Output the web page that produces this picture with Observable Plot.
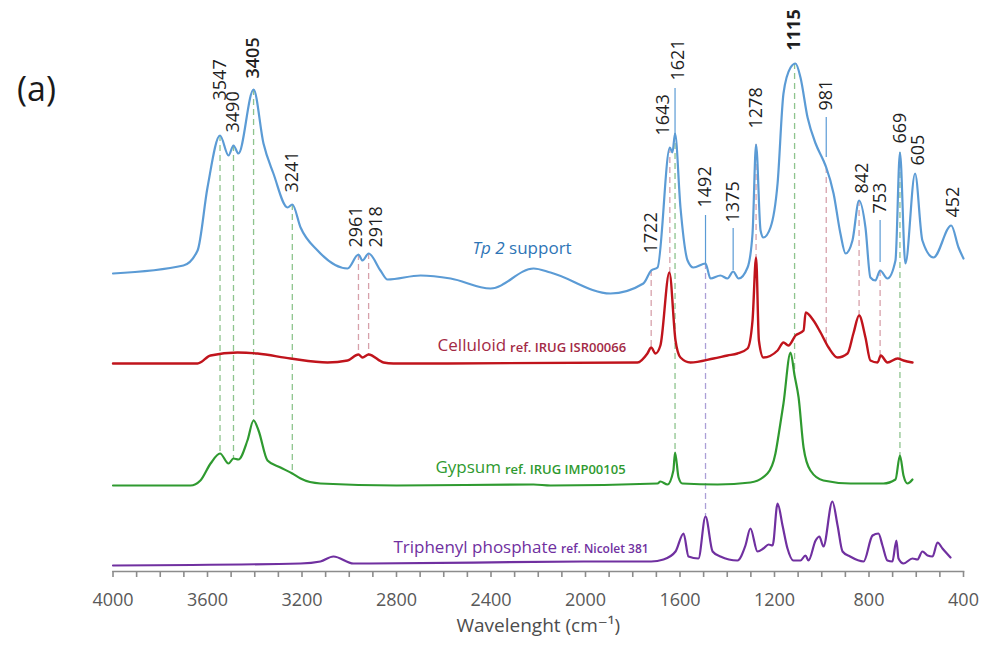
<!DOCTYPE html>
<html>
<head>
<meta charset="utf-8">
<script src="https://cdn.jsdelivr.net/npm/d3@7"></script>
<script src="https://cdn.jsdelivr.net/npm/@observablehq/plot@0.6"></script>
<style>
  html, body { margin: 0; padding: 0; background: #fff; }
  #chart svg { display: block; }
</style>
</head>
<body>
<div id="chart"></div>
<script>
// ---- Spectra: [wavenumber (cm-1), stacked absorbance (a.u.)] ----
const tp2Support = [
  [4000,2.95],[3702,3.03],[3642,3.18],[3600,3.81],[3547,4.33],[3511,4.13],[3490,4.23],[3469,4.15],
  [3405,4.79],[3363,4.25],[3321,3.95],[3261,3.61],[3241,3.64],[3206,3.41],[3134,3.18],[3007,3.00],
  [2961,3.14],[2944,3.08],[2918,3.15],[2868,2.98],[2838,2.89],[2698,2.93],[2571,2.90],[2402,2.80],
  [2220,3.00],[2148,2.96],[1894,2.75],[1755,2.85],[1722,2.98],[1695,3.01],[1643,4.21],[1632,4.16],
  [1621,4.35],[1598,3.61],[1568,3.08],[1543,3.01],[1492,3.05],[1471,2.90],[1429,2.93],[1399,2.90],
  [1375,2.97],[1352,2.90],[1314,3.01],[1293,3.35],[1278,4.24],[1259,3.38],[1247,3.31],[1217,3.41],
  [1187,3.85],[1162,4.75],[1132,5.01],[1111,5.05],[1090,4.91],[1060,4.51],[1026,4.25],[993,4.08],
  [981,4.01],[950,3.75],[921,3.35],[899,3.15],[870,3.28],[842,3.68],[815,3.41],[794,2.91],
  [773,2.88],[753,2.98],[722,2.90],[688,3.08],[669,4.16],[646,3.05],[605,3.95],[574,3.28],
  [527,3.11],[452,3.43],[421,3.21],[400,3.10]
];
const celluloid = [
  [4000,2.05],[3642,2.05],[3587,2.13],[3473,2.16],[3388,2.15],[3249,2.10],[3092,2.06],[3007,2.08],
  [2961,2.14],[2944,2.11],[2918,2.14],[2855,2.06],[2813,2.05],[1780,2.06],[1738,2.15],[1722,2.21],
  [1704,2.15],[1683,2.23],[1645,2.96],[1619,2.28],[1598,2.11],[1556,2.06],[1458,2.10],[1399,2.13],
  [1357,2.15],[1314,2.20],[1293,2.48],[1278,3.11],[1266,2.28],[1247,2.11],[1187,2.18],[1162,2.26],
  [1141,2.23],[1111,2.33],[1077,2.38],[1068,2.56],[1035,2.48],[1005,2.36],[971,2.21],[933,2.11],
  [891,2.15],[866,2.35],[842,2.53],[815,2.31],[794,2.08],[764,2.06],[750,2.13],[722,2.06],
  [679,2.10],[654,2.08],[616,2.06]
];
const gypsum = [
  [4000,0.83],[3672,0.83],[3630,0.88],[3587,1.05],[3547,1.15],[3511,1.05],[3490,1.10],[3469,1.09],
  [3431,1.28],[3405,1.48],[3384,1.38],[3346,1.08],[3291,1.01],[3241,0.95],[3206,0.90],[3122,0.85],
  [2800,0.83],[2220,0.84],[2148,0.83],[1695,0.85],[1683,0.87],[1653,0.84],[1628,0.98],[1621,1.16],
  [1606,0.91],[1590,0.85],[1441,0.84],[1302,0.86],[1230,0.95],[1196,1.15],[1183,1.33],[1162,1.65],
  [1132,2.16],[1115,1.93],[1098,1.71],[1077,1.21],[1048,0.98],[993,0.88],[878,0.85],[739,0.85],
  [688,0.89],[669,1.13],[654,0.93],[637,0.85],[616,0.89]
];
const triphenylPhosphate = [
  [4000,0.03],[3206,0.05],[3122,0.07],[3067,0.12],[2982,0.05],[2923,0.05],[2008,0.07],[1722,0.07],
  [1670,0.09],[1619,0.17],[1585,0.35],[1564,0.12],[1522,0.10],[1492,0.52],[1462,0.17],[1429,0.12],
  [1357,0.08],[1323,0.23],[1302,0.40],[1272,0.17],[1247,0.20],[1225,0.24],[1208,0.23],[1187,0.65],
  [1166,0.43],[1145,0.20],[1120,0.08],[1090,0.08],[1069,0.13],[1056,0.08],[1026,0.28],[1010,0.32],
  [993,0.22],[955,0.67],[933,0.43],[912,0.17],[880,0.12],[823,0.07],[785,0.33],[760,0.35],
  [743,0.23],[722,0.08],[701,0.07],[684,0.28],[675,0.10],[654,0.05],[616,0.10],[595,0.09],
  [574,0.17],[552,0.13],[531,0.12],[510,0.26],[489,0.20],[455,0.11]
];

// ---- Peak labels: peak wavenumber, label text, where the label sits (wavenumber, absorbance) ----
const peakWn      = [3547,3490,3405,3241,2961,2918,1722,1643,1621,1492,1375,1278,1115,981,842,753,669,605,452];
const peakLabel   = ["3547","3490","3405","3241","2961","2918","1722","1643","1621","1492","1375","1278","1115","981","842","753","669","605","452"];
const peakLabelWn = [3547,3490,3405,3241,2971,2885,1722,1670,1606,1492,1375,1278,1115,981,828,753,669,591,442];
const peakLabelBase = [4.68,4.36,4.90,3.76,3.21,3.21,3.15,4.33,4.88,3.61,3.46,4.40,5.18,4.58,3.75,3.55,4.25,4.03,3.51];
const peakWeight  = [400,400,600,400,400,400,400,400,400,400,400,400,700,400,400,400,400,400,400];

// ---- Dashed correlation lines: wavenumber, top (on Tp 2), bottom (on reference), reference ----
const dashWn     = [3547,3490,3405,3241,2961,2918,1722,1643,1621,1492,1278,1115,981,842,753,669];
const dashTop    = [4.33,4.23,4.79,3.64,3.14,3.15,2.98,4.21,4.35,3.05,4.24,5.05,4.01,3.68,2.98,4.16];
const dashBottom = [1.15,1.10,1.48,0.95,2.14,2.14,2.21,2.96,1.16,0.52,3.11,1.95,2.25,2.53,2.13,1.13];
const dashRef    = ["G","G","G","G","C","C","C","C","G","T","C","G","C","C","C","G"];

// ---- Short solid leader lines under some labels ----
const leaderWn     = [1621,1492,1375,981,753];
const leaderTop    = [4.80,3.53,3.40,4.51,3.48];
const leaderBottom = [4.33,3.05,2.98,4.11,3.06];

// ---- Series names ----
const seriesName    = ["Tp 2", "Celluloid", "Gypsum", "Triphenyl phosphate"];
const seriesRef     = ["support", "ref. IRUG ISR00066", "ref. IRUG IMP00105", "ref. Nicolet 381"];
const seriesNameWn  = [2478, 2626, 2635, 2813];
const seriesLabelY  = [3.20, 2.23, 1.01, 0.21];

const xTicks = d3.range(400, 4001, 100);

const FONT = "'Open Sans', 'DejaVu Sans', sans-serif";
const colors = {T2: "#5b9bd5", C: "#c0141c", G: "#2f9a30", T: "#7030a0"};
const labelColors = ["#2e75b6", "#a32a45", "#2f9a30", "#7030a0"];
const dashColors = {G: "#8ec48e", C: "#d7a1ab", T: "#ab9fd6"};
const nameSize = [17, 17, 17, 17];
const refSize  = [17, 13, 13, 12];

const ctx = document.createElement("canvas").getContext("2d");
function textWidth(str, size, style = "normal", weight = "normal") {
  ctx.font = `${style} ${weight} ${size}px 'Open Sans'`;
  return ctx.measureText(str).width;
}

const dashes = dashWn.map((w, i) => ({w, y1: dashTop[i], y2: dashBottom[i], r: dashRef[i]}));
const leaders = leaderWn.map((w, i) => ({w, y1: leaderTop[i], y2: leaderBottom[i]}));
const peaks = peakWn.map((w, i) => ({w, lw: peakLabelWn[i], t: peakLabel[i], y: peakLabelBase[i], fw: peakWeight[i]}));

const lineOpts = (c, w) => ({x: d => d[0], y: d => d[1], stroke: c, strokeWidth: w, curve: "monotone-x"});

const peakMarks = [400, 600, 700].map(fw =>
  Plot.text(peaks.filter(d => d.fw === fw), {x: "lw", y: "y", text: "t", rotate: -90, textAnchor: "start",
    lineAnchor: "middle", fontSize: 18, fill: "#1f1f1f", fontWeight: fw}));

const seriesMarks = seriesName.flatMap((n, i) => {
  const style = i === 0 ? "italic" : "normal";
  const gap = textWidth(" ", nameSize[i]) * (i === 0 ? 1 : 0.9);
  const dx = textWidth(n, nameSize[i], style) + gap;
  const datum = [{n, r: seriesRef[i], x: seriesNameWn[i], y: seriesLabelY[i]}];
  return [
    Plot.text(datum, {x: "x", y: "y", text: "n", textAnchor: "start", fontSize: nameSize[i], fontStyle: style, fill: labelColors[i]}),
    Plot.text(datum, {x: "x", y: "y", text: "r", textAnchor: "start", dx, dy: i === 0 ? 0 : 2,
      fontSize: refSize[i], fontWeight: i === 0 ? 400 : 600, fill: labelColors[i]})
  ];
});

const chart = Plot.plot({
  width: 982,
  height: 645,
  marginLeft: 112.5,
  marginRight: 19,
  marginTop: 0,
  marginBottom: 74,
  style: {fontFamily: FONT, background: "#fff"},
  x: {domain: [4000, 400]},
  y: {domain: [-0.03, 5.68], axis: null},
  marks: [
    // dashed correlation lines
    Plot.ruleX(dashes, {x: "w", y1: "y1", y2: "y2", stroke: d => dashColors[d.r], strokeWidth: 1.3, strokeDasharray: "6,4"}),
    // solid leaders
    Plot.ruleX(leaders, {x: "w", y1: "y1", y2: "y2", stroke: colors.T2, strokeWidth: 1.2}),
    // axis line + ticks
    Plot.frame({anchor: "bottom", stroke: "#8c8c8c", strokeWidth: 1.6}),
    Plot.axisX({ticks: xTicks, tickSize: 6, tickPadding: 16, stroke: "#8c8c8c", strokeWidth: 1.6,
      tickFormat: d => (d % 400 === 0 ? String(d) : ""), fontSize: 18, color: "#595959", label: null}),
    // spectra
    Plot.line(triphenylPhosphate, lineOpts(colors.T, 2.2)),
    Plot.line(gypsum, lineOpts(colors.G, 2.2)),
    Plot.line(celluloid, lineOpts(colors.C, 2.4)),
    Plot.line(tp2Support, lineOpts(colors.T2, 2.2)),
    ...peakMarks,
    ...seriesMarks,
    // axis title
    Plot.text(["Wavelenght (cm⁻¹)"], {frameAnchor: "bottom", dy: 60, fontSize: 19, fill: "#4d4d4d"}),
    // panel tag
    Plot.text(["(a)"], {frameAnchor: "top-left", textAnchor: "start", dx: -96, dy: 76, fontSize: 34, fill: "#1a1a1a"})
  ]
});
document.getElementById("chart").appendChild(chart);
</script>
</body>
</html>
